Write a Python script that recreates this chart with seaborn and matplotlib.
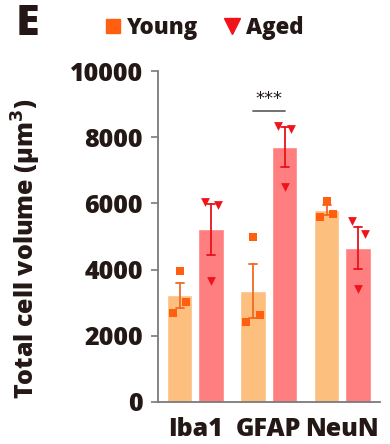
import numpy as np
import pandas as pd
import matplotlib
matplotlib.use("Agg")
import matplotlib.pyplot as plt
from matplotlib.lines import Line2D
import seaborn as sns

# ---- data ----
markers = ["Iba1", "GFAP", "NeuN"]
groups = ["Young", "Aged"]
# three animals per group, listed left / centre / right as drawn
young_vals = {
    "Iba1": [2680, 3960, 3030],
    "GFAP": [2415, 4990, 2630],
    "NeuN": [5600, 6080, 5680],
}
aged_vals = {
    "Iba1": [6040, 3660, 5950],
    "GFAP": [8350, 6480, 8250],
    "NeuN": [5470, 3410, 5070],
}
slots = [-1, 0, 1]
yticks = [0, 2000, 4000, 6000, 8000, 10000]
ylabel = "Total cell volume (μm$^3$)"
sig_text = "***"
sig_level = 8800
panel_letter = "E"

rows = []
for g, src in zip(groups, [young_vals, aged_vals]):
    for m in markers:
        for s, v in zip(slots, src[m]):
            rows.append({"marker": m, "group": g, "slot": s, "volume": v})
df = pd.DataFrame(rows)

# ---- style ----
TXT = "#231815"
bar_colors = {"Young": "#FDBF7E", "Aged": "#FF7E80"}
pt_colors = {"Young": "#FF5F0F", "Aged": "#F0141A"}
err_colors = {"Young": "#F06A25", "Aged": "#E8141B"}
pt_markers = {"Young": "s", "Aged": "v"}
W = "heavy"

sns.set_style("white")
plt.rcParams["font.family"] = ["Open Sans", "DejaVu Sans"]
plt.rcParams["font.weight"] = W

fig = plt.figure(figsize=(3.9, 4.44), dpi=100)
ax = fig.add_axes([0.405, 0.095, 0.569, 0.745])

width, gap = 0.86, 0.19
sns.barplot(data=df, x="marker", y="volume", hue="group", order=markers,
            hue_order=groups, palette=bar_colors, errorbar="se",
            capsize=0.22, width=width, gap=gap, saturation=1,
            err_kws={"linewidth": 1.3}, legend=False, ax=ax)

# colour error bars by group (match by x position to bars)
patches = ax.patches
for ln in ax.lines:
    xc = np.nanmean(ln.get_xdata())
    for p in patches:
        if p.get_x() <= xc <= p.get_x() + p.get_width():
            fc = matplotlib.colors.to_hex(p.get_facecolor())
            g = [k for k, c in bar_colors.items() if c.lower() == fc.lower()][0]
            ln.set_color(err_colors[g])
            ln.set_zorder(3)
            break

# individual points
half = width / 2
dodge = {"Young": -half / 2, "Aged": half / 2}
df["xpos"] = df["marker"].map({m: i for i, m in enumerate(markers)}) \
    + df["group"].map(dodge) + df["slot"] * 0.09
for g in groups:
    sub = df[df["group"] == g]
    sns.scatterplot(data=sub, x="xpos", y="volume", marker=pt_markers[g],
                    color=pt_colors[g], s=30 if g == "Young" else 40,
                    linewidth=0, zorder=4, ax=ax, legend=False)

# significance
gx = markers.index("GFAP")
ax.plot([gx + dodge["Young"], gx + dodge["Aged"]], [sig_level, sig_level],
        color="#666666", lw=1.3, zorder=5)
ax.text(gx, sig_level + 80, sig_text, ha="center", va="bottom",
        fontsize=13, fontweight="normal", color=TXT, family="DejaVu Sans")

ax.set_xlim(-0.51, 2.51)
ax.set_ylim(0, 10000)
ax.set_yticks(yticks)
ax.set_yticklabels([str(t) for t in yticks])
ax.set_xlabel("")
ax.set_ylabel(ylabel, fontsize=18, fontweight=W, color=TXT)
ax.yaxis.set_label_coords(-0.518, 0.463)
for sp in ["top", "right"]:
    ax.spines[sp].set_visible(False)
for sp in ["left", "bottom"]:
    ax.spines[sp].set_color("#7a7a7a")
    ax.spines[sp].set_linewidth(1.3)
ax.tick_params(axis="y", length=5, width=1.2, color="#7a7a7a",
               labelsize=18, labelcolor=TXT, pad=6, left=True)
ax.tick_params(axis="x", length=0, labelsize=18, labelcolor=TXT, pad=11)
for t in ax.get_xticklabels() + ax.get_yticklabels():
    t.set_fontweight(W)

# legend
handles = [Line2D([], [], marker=pt_markers[g], color=pt_colors[g], ls="",
                  markersize=10 if g == "Young" else 12) for g in groups]
leg = fig.legend(handles, groups, loc="center", bbox_to_anchor=(0.52, 0.937),
                 ncol=2, frameon=False, handletextpad=0.15, columnspacing=1.0,
                 handlelength=1.0, prop={"size": 16, "weight": W})
for t in leg.get_texts():
    t.set_color(TXT)

fig.text(0.040, 0.947, panel_letter, fontsize=31, fontweight=W,
         color=TXT, va="center", ha="left")

fig.savefig("out.png", dpi=100, facecolor="white")
